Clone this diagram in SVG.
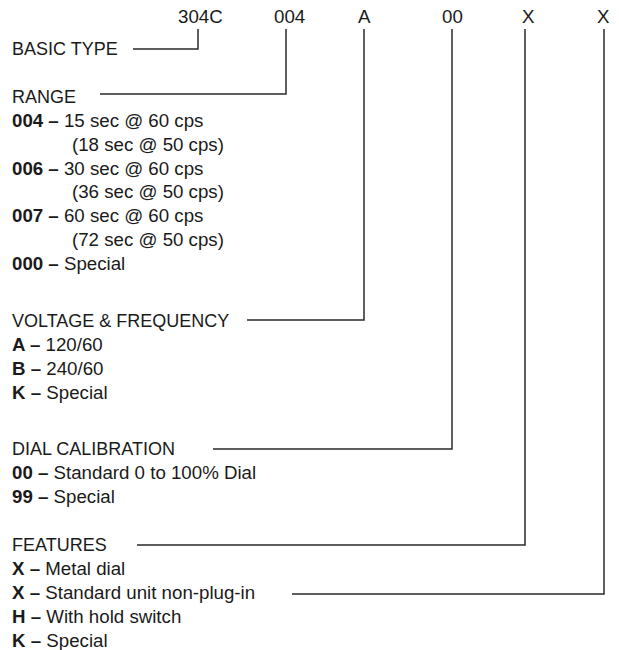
<svg xmlns="http://www.w3.org/2000/svg" width="619" height="650" viewBox="0 0 619 650">
<style>
text{font-family:"Liberation Sans",Arial,sans-serif;font-size:18.7px;fill:#1a1a1a}
text.h{font-size:18px}
.b{font-weight:bold}
.ln{fill:none;stroke:#2a2a2a;stroke-width:1.5}
</style>
<rect width="619" height="650" fill="#fff"/>
<g id="code">
<text x="178" y="23">304C</text>
<text x="274" y="23">004</text>
<text x="358" y="23">A</text>
<text x="442" y="23">00</text>
<text x="522" y="23">X</text>
<text x="597" y="23">X</text>
</g>
<g id="basic-type">
<text class="h" x="12" y="55">BASIC TYPE</text>
</g>
<g id="range">
<text class="h" x="12" y="103">RANGE</text>
<text x="12" y="127"><tspan class="b">004 –</tspan> 15 sec @ 60 cps</text>
<text x="72" y="150.5">(18 sec @ 50 cps)</text>
<text x="12" y="174.5"><tspan class="b">006 –</tspan> 30 sec @ 60 cps</text>
<text x="72" y="198">(36 sec @ 50 cps)</text>
<text x="12" y="222"><tspan class="b">007 –</tspan> 60 sec @ 60 cps</text>
<text x="72" y="245.5">(72 sec @ 50 cps)</text>
<text x="12" y="269.5"><tspan class="b">000 –</tspan> Special</text>
</g>
<g id="voltage">
<text class="h" x="12" y="327">VOLTAGE &amp; FREQUENCY</text>
<text x="12" y="351"><tspan class="b">A –</tspan> 120/60</text>
<text x="12" y="375"><tspan class="b">B –</tspan> 240/60</text>
<text x="12" y="399"><tspan class="b">K –</tspan> Special</text>
</g>
<g id="dial">
<text class="h" x="12" y="455">DIAL CALIBRATION</text>
<text x="12" y="479"><tspan class="b">00 –</tspan> Standard 0 to 100% Dial</text>
<text x="12" y="503"><tspan class="b">99 –</tspan> Special</text>
</g>
<g id="features">
<text class="h" x="12" y="551">FEATURES</text>
<text x="12" y="575"><tspan class="b">X –</tspan> Metal dial</text>
<text x="12" y="599"><tspan class="b">X –</tspan> Standard unit non-plug-in</text>
<text x="12" y="623"><tspan class="b">H –</tspan> With hold switch</text>
<text x="12" y="647"><tspan class="b">K –</tspan> Special</text>
</g>
<g id="connectors" class="ln">
<polyline points="133,49 198,49 198,29"/>
<polyline points="100,94 286,94 286,29"/>
<polyline points="247,320 364,320 364,29"/>
<polyline points="213,449 452,449 452,29"/>
<polyline points="137,545 525,545 525,29"/>
<polyline points="292,594 604,594 604,29"/>
</g>
</svg>
